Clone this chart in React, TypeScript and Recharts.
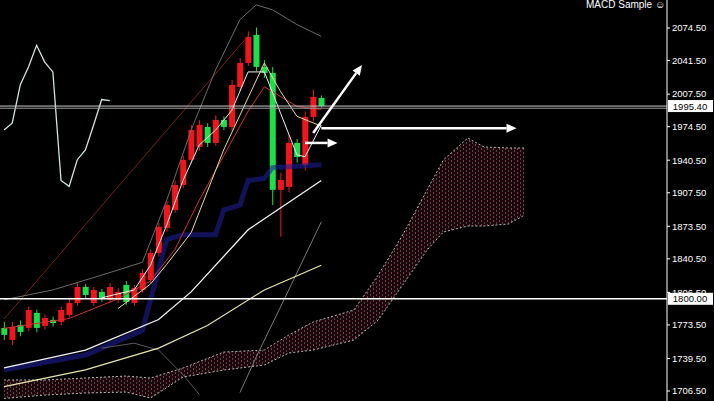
import { ComposedChart, Bar, Line, Area, XAxis, YAxis, ReferenceLine } from 'recharts';

// 40 candles, then room for the cloud shifted forward
const slotCount = 82;

const open = [1770.5, 1758.3, 1773.5, 1770.5, 1785.7, 1772.5, 1778.6, 1776.6, 1783.7, 1795.8, 1812.0, 1795.8, 1807.0, 1798.9, 1798.9, 1814.1, 1795.8, 1809.0, 1819.1, 1846.5, 1871.9, 1890.1, 1915.4, 1940.8, 1954.0, 1974.2, 1958.0, 1981.3, 1974.2, 2014.8, 2039.1, 2067.5, 2035.1, 2029.0, 1910.4, 1913.4, 1958.0, 1935.7, 1984.4, 2003.6];
const close = [1763.4, 1771.5, 1766.4, 1788.7, 1770.5, 1780.6, 1775.5, 1788.7, 1795.8, 1812.0, 1803.9, 1809.0, 1800.9, 1812.0, 1807.0, 1796.8, 1811.0, 1826.2, 1846.5, 1872.9, 1895.2, 1915.4, 1940.8, 1971.2, 1976.3, 1958.0, 1981.3, 1974.2, 2016.8, 2039.1, 2065.5, 2035.1, 2029.0, 1910.4, 1920.5, 1958.0, 1943.8, 1984.4, 2004.7, 1995.4];
const high = [1776.6, 1776.6, 1778, 1792, 1789, 1784, 1782, 1792, 1800, 1817, 1815, 1812, 1810, 1816, 1811, 1818, 1814, 1830, 1850, 1877, 1899, 1920, 1945, 1976, 1981, 1978, 1986, 1985, 2022, 2044, 2071, 2075, 2042, 2035, 1928, 1966, 1962, 1990, 2012, 2006];
const low = [1758.3, 1753.2, 1762, 1767, 1766, 1769, 1772, 1773, 1781, 1793, 1800, 1793, 1797, 1796, 1796, 1794, 1793, 1806, 1816, 1843, 1868, 1887, 1912, 1937, 1950, 1954, 1955, 1971, 1970, 2011, 2036, 2031, 2024, 1895, 1863, 1908, 1938, 1930, 1980, 1994];

// indicator lines, read as [bar, price]
const oscLine = [[0, 1971], [1, 1978], [2, 2017], [3, 2035], [4, 2057], [5, 2040], [6, 2030], [7, 1920], [8, 1914], [9, 1941], [10, 1951], [11, 1976], [12, 2002], [13, 2001]];
const trendLine = [[0, 1779.6], [30, 2066.5]];
const bandTop = [[0, 1799], [6, 1809], [12, 1824], [17, 1837], [20, 1900], [23, 1971], [26, 2032], [29, 2083], [31, 2098], [33, 2093], [36, 2078], [39, 2066]];
const fastMa = [[12, 1801], [16, 1809], [18, 1834], [20, 1875], [22, 1920], [24, 1956], [26, 1971], [28, 1991], [30, 2030], [32, 2030], [34, 1988], [36, 1946], [37, 1944], [39, 1976]];
const slowMa = [[14, 1790], [18, 1815], [20, 1835], [23, 1867], [27, 1951], [32, 2039], [34, 2010], [36, 1985], [39, 1975]];
const redMa = [[0, 1770], [8, 1780], [14, 1800], [18, 1818], [21, 1850], [24, 1900], [27, 1945], [30, 1990], [32, 2015], [34, 2005], [36, 1995], [39, 1992]];
const whiteMa = [[0, 1730], [10, 1748], [19, 1779], [23, 1807], [30, 1870], [39, 1920]];
const yellowMa = [[0, 1711], [10, 1728], [19, 1750], [25, 1773], [32, 1809], [39, 1834]];
const kijun = [[0, 1728], [10, 1743], [17, 1768], [18, 1799], [20, 1860], [22, 1865], [26, 1865], [27, 1890], [29, 1895], [30, 1920], [32, 1922], [33, 1933], [39, 1936]];
const chikou = [[29, 1705], [31, 1741], [35, 1809], [39, 1878]];
const bandLow = [[12, 1750], [16, 1755], [19, 1748], [22, 1723], [24, 1703]];

// cloud: [bar, top, bottom]
const cloud = [[0, 1717.7, 1699], [5, 1717.7, 1702.4], [10, 1719.7, 1704.5], [15, 1721.7, 1705.5], [18, 1719.7, 1699.4], [22, 1729.8, 1720.7], [27, 1746, 1727.8], [32, 1748.1, 1732.9], [35, 1763.3, 1745], [38, 1776.5, 1748.1], [43, 1788.6, 1758.2], [46, 1824.1, 1778.5], [49, 1864.7, 1814], [52, 1910.3, 1849.4], [54, 1940.7, 1867.7], [57, 1963, 1873.8], [59, 1953.9, 1873.8], [62, 1952.9, 1875.8], [64, 1952.9, 1884.9]];

const yTicks = [2074.5, 2041.5, 2007.5, 1974.5, 1940.5, 1907.5, 1873.5, 1840.5, 1806.5, 1773.5, 1739.5, 1706.5];
const lastPrice = 1995.4;
const levelPrice = 1800;

const rows: any[] = Array.from({ length: slotCount }, (_, i) => ({ i }));
close.forEach((c, i) => {
  rows[i].o = open[i];
  rows[i].c = c;
  rows[i].hl = [low[i], high[i]];
});
const put = (key: string, pairs: number[][]) => pairs.forEach(([i, v]) => { rows[i][key] = v; });
put('osc', oscLine);
put('trend', trendLine);
put('bandTop', bandTop);
put('fast', fastMa);
put('slow', slowMa);
put('red', redMa);
put('white', whiteMa);
put('yellow', yellowMa);
put('kijun', kijun);
put('chikou', chikou);
put('bandLow', bandLow);
cloud.forEach(([i, t, b]) => { rows[i].cloud = [b, t]; });

const font = '"Liberation Sans", Arial, sans-serif';

const Candle = (props: any) => {
  const { x, y, width, height, payload } = props;
  if (payload.o == null) return null;
  const [lo, hi] = payload.hl;
  const h = Math.abs(height);
  const top0 = Math.min(y, y + height);
  const py = (v: number) => top0 + ((hi - v) / (hi - lo)) * h;
  const col = payload.c >= payload.o ? '#f2161c' : '#1ee046';
  const cx = x + width / 2;
  const t = py(Math.max(payload.o, payload.c));
  const b = py(Math.min(payload.o, payload.c));
  return (
    <g>
      <line x1={cx} x2={cx} y1={top0} y2={top0 + h} stroke={col} strokeWidth={1} />
      <rect x={cx - 3} y={t} width={6} height={Math.max(1, b - t)} fill={col} />
    </g>
  );
};

const Arrow = (p: any) => {
  const { x1, y1, x2, y2 } = p;
  const a = Math.atan2(y2 - y1, x2 - x1);
  const bx = x2 - 10 * Math.cos(a);
  const by = y2 - 10 * Math.sin(a);
  const pts = `${x2},${y2} ${bx - 4.5 * Math.sin(a)},${by + 4.5 * Math.cos(a)} ${bx + 4.5 * Math.sin(a)},${by - 4.5 * Math.cos(a)}`;
  return (
    <g>
      <line x1={x1} y1={y1} x2={bx} y2={by} stroke="#fff" strokeWidth={2.5} />
      <polygon points={pts} fill="#fff" />
    </g>
  );
};

const priceTag = (txt: string) => (props: any) => {
  const vb = props.viewBox;
  const x = vb.x + vb.width + 1;
  return (
    <g>
      <rect x={x} y={vb.y - 6} width={45} height={12} fill="#fff" />
      <text x={x + 22} y={vb.y + 3.5} textAnchor="middle" fontSize={9.5} fill="#000" fontFamily={font}>{txt}</text>
    </g>
  );
};

const line = (key: string, color: string, w = 1) => (
  <Line dataKey={key} stroke={color} strokeWidth={w} dot={false} activeDot={false} connectNulls isAnimationActive={false} />
);

export default function App() {
  return (
    <div style={{ position: 'relative', width: 714, height: 401, background: '#000', overflow: 'hidden' }}>
      <style>{'body{margin:0;background:#000}'}</style>
      <ComposedChart width={714} height={401} data={rows} margin={{ top: 0, right: 0, bottom: 0, left: 0 }}>
        <defs>
          <pattern id="cloudFill" width="6" height="4" patternUnits="userSpaceOnUse">
            <rect width="6" height="4" fill="#300a12" />
            <rect x="1" y="0" width="1" height="2" fill="#c07880" />
            <rect x="4" y="2" width="1" height="2" fill="#7a7a7a" />
          </pattern>
        </defs>
        <XAxis dataKey="i" hide />
        <YAxis
          orientation="right"
          type="number"
          domain={[1696.4, 2102.9]}
          allowDataOverflow
          ticks={yTicks}
          tickFormatter={(v: number) => v.toFixed(2)}
          width={47}
          stroke="#fff"
          tickSize={3}
          tickMargin={2}
          tick={{ fill: '#fff', fontSize: 9.5, fontFamily: font }}
        />
        <Area dataKey="cloud" fill="url(#cloudFill)" stroke="#b8b8b8" strokeDasharray="2 2" strokeWidth={1} dot={false} activeDot={false} connectNulls isAnimationActive={false} />
        {line('kijun', 'rgba(30,30,150,0.6)', 5)}
        {line('trend', '#7c1c1c')}
        {line('bandTop', '#6c6c6c')}
        {line('bandLow', '#5a5a5a')}
        {line('chikou', '#7a7a7a')}
        {line('white', '#f4f4f4', 1.3)}
        {line('yellow', '#e6e6a8', 1.2)}
        {line('osc', '#cfe6dc', 1.3)}
        <Bar dataKey="hl" shape={(p: any) => <Candle {...p} />} activeBar={false} isAnimationActive={false} />
        {line('red', '#d03030')}
        {line('slow', '#e8dc9c')}
        {line('fast', '#f0f0f0')}
        <ReferenceLine y={lastPrice} stroke="#c8c8c8" strokeWidth={1} label={priceTag(lastPrice.toFixed(2))} />
        <ReferenceLine y={lastPrice - 2.2} stroke="#9a9a9a" strokeWidth={1} />
        <ReferenceLine y={levelPrice} stroke="#fff" strokeWidth={1.5} label={priceTag(levelPrice.toFixed(2))} />
        <ReferenceLine segment={[{ x: 38, y: 1968 }, { x: 44, y: 2037 }]} shape={(p: any) => <Arrow {...p} />} />
        <ReferenceLine segment={[{ x: 39, y: 1973 }, { x: 63, y: 1973 }]} shape={(p: any) => <Arrow {...p} />} />
        <ReferenceLine segment={[{ x: 37, y: 1958 }, { x: 41, y: 1958 }]} shape={(p: any) => <Arrow {...p} />} />
      </ComposedChart>
      <div style={{ position: 'absolute', left: 586, top: -1, lineHeight: '12px', color: '#fff', fontSize: 10, fontFamily: font, whiteSpace: 'nowrap' }}>
        MACD Sample ☺
      </div>
    </div>
  );
}
